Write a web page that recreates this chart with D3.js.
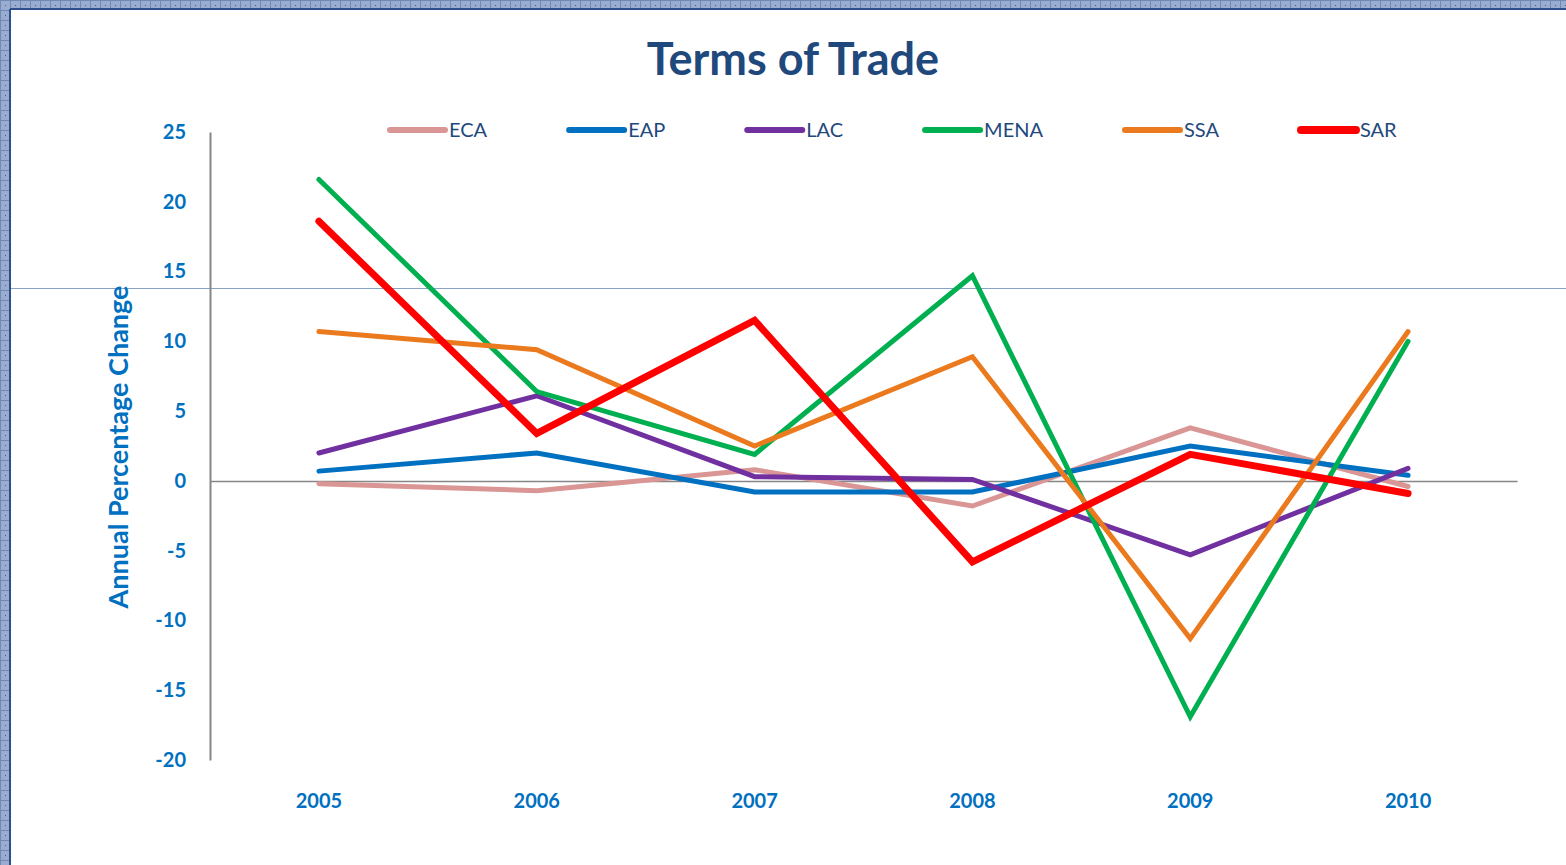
<!DOCTYPE html>
<html>
<head>
<meta charset="utf-8">
<script src="https://cdn.jsdelivr.net/npm/d3@7"></script>
<style>
  html, body { margin: 0; padding: 0; background: #fff; }
  svg { display: block; }
</style>
</head>
<body>
<div id="chart"></div>
<script>
// data
const years = ['2005', '2006', '2007', '2008', '2009', '2010'];
const seriesNames = ['ECA', 'EAP', 'LAC', 'MENA', 'SSA', 'SAR'];
const eca  = [-0.2, -0.7, 0.8, -1.8, 3.8, -0.4];
const eap  = [0.7, 2.0, -0.8, -0.8, 2.5, 0.4];
const lac  = [2.0, 6.1, 0.3, 0.1, -5.3, 0.9];
const mena = [21.6, 6.4, 1.9, 14.7, -16.9, 10.0];
const ssa  = [10.7, 9.4, 2.5, 8.9, -11.3, 10.7];
const sar  = [18.6, 3.4, 11.5, -5.8, 1.9, -0.9];
const yTicks = [25, 20, 15, 10, 5, 0, -5, -10, -15, -20];

const colors = ['#D99694', '#0070C0', '#7030A0', '#00B050', '#EB7A1E', '#FF0000'];
const widths = [5, 5, 5, 5, 5, 7];
const allValues = [eca, eap, lac, mena, ssa, sar];

const W = 1566, H = 865;
const margin = { left: 210, right: 49, top: 132, bottom: 105 };

const svg = d3.select('#chart').append('svg')
  .attr('width', W)
  .attr('height', H);

// patterned frame on top and left
const defs = svg.append('defs');
const pat = defs.append('pattern')
  .attr('id', 'frame')
  .attr('width', 10).attr('height', 10)
  .attr('patternUnits', 'userSpaceOnUse');
pat.append('rect').attr('width', 10).attr('height', 10).attr('fill', '#9aadd0');
pat.append('path').attr('d', 'M0,0.5H10M0.5,0V10').attr('stroke', '#7088b4').attr('stroke-width', 1);
pat.append('rect').attr('x', 5).attr('y', 5).attr('width', 1).attr('height', 1).attr('fill', '#3f5f96');

svg.append('rect').attr('x', 0).attr('y', 0).attr('width', W).attr('height', 9).attr('fill', 'url(#frame)');
svg.append('rect').attr('x', 0).attr('y', 0).attr('width', 10).attr('height', H).attr('fill', 'url(#frame)');
svg.append('line').attr('x1', 10).attr('x2', W).attr('y1', 9).attr('y2', 9)
  .attr('stroke', '#2e4f8c').attr('stroke-width', 2);
svg.append('line').attr('x1', 10).attr('x2', 10).attr('y1', 9).attr('y2', H)
  .attr('stroke', '#2e4f8c').attr('stroke-width', 2);

// stray thin line across the sheet
svg.append('line').attr('x1', 11).attr('x2', W).attr('y1', 288.5).attr('y2', 288.5)
  .attr('stroke', '#8aa2c6').attr('stroke-width', 1);

const x = d3.scaleBand()
  .domain(years)
  .range([margin.left, W - margin.right]);

const y = d3.scaleLinear()
  .domain([-20, 25])
  .range([H - margin.bottom, margin.top]);

// title
svg.append('text')
  .attr('x', 793).attr('y', 75)
  .attr('text-anchor', 'middle')
  .attr('font-family', 'Lato, "Open Sans", sans-serif')
  .attr('font-weight', 'bold')
  .attr('font-size', 45)
  .attr('fill', '#1F497D')
  .text('Terms of Trade');

// y axis
const yAxis = svg.append('g')
  .attr('transform', `translate(${margin.left},0)`)
  .call(d3.axisLeft(y).tickValues(yTicks).tickSize(0).tickPadding(24).tickFormat(d => String(d)));
yAxis.select('.domain').attr('stroke', '#868686').attr('stroke-width', 2);
yAxis.selectAll('text')
  .attr('font-family', 'Lato, "Open Sans", sans-serif')
  .attr('font-weight', 'bold')
  .attr('font-size', 20)
  .attr('fill', '#0070C0');

// zero line with category labels below the plot
const xAxis = svg.append('g')
  .attr('transform', `translate(0,${y(0)})`)
  .call(d3.axisBottom(x).tickSize(0).tickPadding(0));
xAxis.select('.domain').attr('stroke', '#868686').attr('stroke-width', 1.5);
xAxis.selectAll('text')
  .attr('y', y(-20) - y(0) + 34)
  .attr('font-family', 'Lato, "Open Sans", sans-serif')
  .attr('font-weight', 'bold')
  .attr('font-size', 20)
  .attr('fill', '#0070C0');

// axis title
svg.append('text')
  .attr('transform', `translate(128,${447}) rotate(-90)`)
  .attr('text-anchor', 'middle')
  .attr('font-family', 'Lato, "Open Sans", sans-serif')
  .attr('font-weight', 'bold')
  .attr('font-size', 27)
  .attr('fill', '#0070C0')
  .text('Annual Percentage Change');

// lines
const line = d3.line()
  .x((d, i) => x(years[i]) + x.bandwidth() / 2)
  .y(d => y(d));

svg.append('g').selectAll('path')
  .data(allValues)
  .join('path')
  .attr('d', line)
  .attr('fill', 'none')
  .attr('stroke', (d, i) => colors[i])
  .attr('stroke-width', (d, i) => widths[i])
  .attr('stroke-linejoin', 'miter')
  .attr('stroke-linecap', 'round');

// legend
const legend = svg.append('g').attr('transform', 'translate(0,130)');
let lx = 390;
seriesNames.forEach((name, i) => {
  const g = legend.append('g').attr('transform', `translate(${lx},0)`);
  g.append('line')
    .attr('x1', 0).attr('x2', 55)
    .attr('stroke', colors[i])
    .attr('stroke-width', i === 5 ? 8 : 6)
    .attr('stroke-linecap', 'round');
  const t = g.append('text')
    .attr('x', 59).attr('y', 7)
    .attr('font-family', 'Lato, "Open Sans", sans-serif')
    .attr('font-size', 20)
    .attr('fill', '#1F497D')
    .text(name);
  lx += 141 + t.node().getComputedTextLength();
});
</script>
</body>
</html>
